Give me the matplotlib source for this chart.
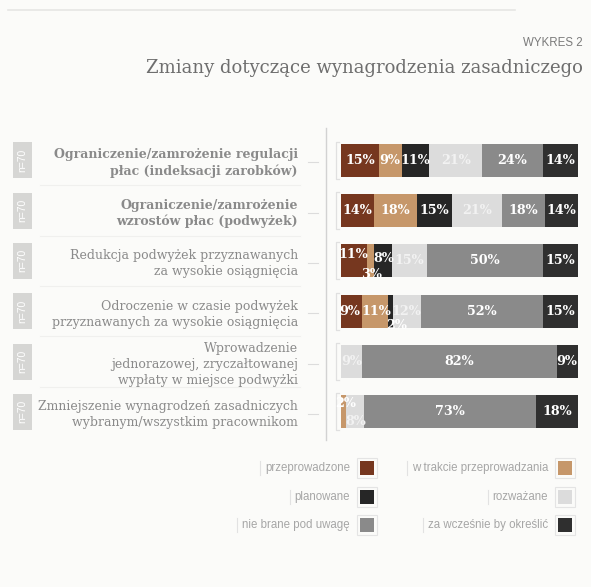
import matplotlib
matplotlib.use("Agg")
import matplotlib.pyplot as plt
from matplotlib.patches import Rectangle
from matplotlib.lines import Line2D
import numpy as np

# ---- data ----
categories = [
    "Ograniczenie/zamrożenie regulacji\npłac (indeksacji zarobków)",
    "Ograniczenie/zamrożenie\nwzrostów płac (podwyżek)",
    "Redukcja podwyżek przyznawanych\nza wysokie osiągnięcia",
    "Odroczenie w czasie podwyżek\nprzyznawanych za wysokie osiągnięcia",
    "Wprowadzenie\njednorazowej, zryczałtowanej\nwypłaty w miejsce podwyżki",
    "Zmniejszenie wynagrodzeń zasadniczych\nwybranym/wszystkim pracownikom",
]
sample_sizes = ["n=70"] * 6
series_names = ["przeprowadzone", "w trakcie przeprowadzania", "planowane",
                "rozważane", "nie brane pod uwagę", "za wcześnie by określić"]
przeprowadzone = [15, 14, 11, 9, 0, 0]
w_trakcie = [9, 18, 3, 11, 0, 2]
planowane = [11, 15, 8, 2, 0, 0]
rozwazane = [21, 21, 15, 12, 9, 8]
nie_brane = [24, 18, 50, 52, 82, 73]
za_wczesnie = [14, 14, 15, 15, 9, 18]

title_tag = "WYKRES 2"
title = "Zmiany dotyczące wynagrodzenia zasadniczego"

# ---- style ----
colors = ["#76371f", "#c6976a", "#262626", "#dcdcdc", "#8a8a8a", "#2f2f2f"]
label_colors = ["white", "white", "white", "#f2f2f2", "white", "white"]
bg = "#fbfbf9"
serif = ["DejaVu Serif"]
narrow = ["Liberation Sans Narrow", "Liberation Sans", "DejaVu Sans"]

W, H = 591, 587
fig = plt.figure(figsize=(W / 100, H / 100), dpi=100, facecolor=bg)

# overlay axes in pixel coordinates for decorations
ov = fig.add_axes([0, 0, 1, 1], zorder=0)
ov.set_xlim(0, W)
ov.set_ylim(H, 0)
ov.axis("off")
ov.set_facecolor("none")


def px_axes(x0, y0, x1, y1):
    return [x0 / W, 1 - y1 / H, (x1 - x0) / W, (y1 - y0) / H]


# top rule
ov.add_line(Line2D([8, 515], [10, 10], color="#e6e6e4", lw=1.2))

# titles
ov.text(583, 43, title_tag, ha="right", va="center", fontsize=8.3,
        family=narrow, color="#7a7a7a")
ov.text(583, 68, title, ha="right", va="center", fontsize=13.0,
        family=serif, color="#6e6e6e")

# bar axes
bx0, bx1 = 341, 578
by0, by1 = 135, 437
ax = fig.add_axes(px_axes(bx0, by0, bx1, by1), zorder=2)
ax.set_facecolor("none")

series = [przeprowadzone, w_trakcie, planowane, rozwazane, nie_brane, za_wczesnie]
data = np.array(series, dtype=float)
totals = data.sum(axis=0)
shares = data / totals * 100.0
n = len(categories)
ypos = np.arange(n)

# label nudges for narrow segments: (row, series) -> (dx in data units, dy in rows)
nudges = {
    (2, 0): (0, -0.12), (2, 1): (0.6, 0.28), (2, 2): (0.4, -0.05),
    (3, 0): (-0.9, 0), (3, 1): (0.6, 0),
    (3, 2): (2.6, 0.28), (5, 1): (1.0, -0.16), (5, 3): (0.2, 0.2),
    (4, 5): (-0.2, 0),
}

left = np.zeros(n)
for s, vals in enumerate(series):
    ax.barh(ypos, shares[s], left=left, height=0.65, color=colors[s],
            edgecolor="none")
    for r in range(n):
        v = vals[r]
        if v <= 0:
            continue
        cx = left[r] + shares[s][r] / 2
        dx, dy = nudges.get((r, s), (0, 0))
        ax.text(cx + dx, r + dy, f"{v}%", ha="center", va="center",
                fontsize=9.2, fontweight="bold", family=serif,
                color=label_colors[s])
    left += shares[s]

ax.set_xlim(0, 100)
ax.set_ylim(n - 0.5, -0.5)
ax.set_yticks(ypos)
ax.set_yticklabels(categories, family=serif, fontsize=9.0, color="#8a8a8a",
                   ha="right", multialignment="right", linespacing=1.3)
ax.tick_params(axis="y", length=0, pad=31)
ax.set_xticks([])
for sp in ax.spines.values():
    sp.set_visible(False)
for i, lbl in enumerate(ax.get_yticklabels()):
    if i < 2:
        lbl.set_fontweight("bold")

# row geometry in pixels
row_h = (by1 - by0) / n
centers = [by0 + row_h * (i + 0.5) for i in range(n)]
half = 0.65 * row_h / 2

# left grey n= boxes and tick marks
for i, c in enumerate(centers):
    ov.add_patch(Rectangle((13, c - 18), 19, 36, color="#d6d6d4", lw=0))
    ov.text(22.5, c, sample_sizes[i], rotation=90, ha="center", va="center",
            fontsize=7.5, family=narrow, color="white")
    ov.add_line(Line2D([308, 318], [c + 2, c + 2], color="#dcdcdc", lw=0.8))
    # bracket at bar start
    ov.add_line(Line2D([339, 336, 336, 339],
                       [c - half - 2, c - half - 2, c + half + 2, c + half + 2],
                       color="#e0e0e0", lw=0.9))
    if 0 < i:
        ov.add_line(Line2D([40, 300], [c - row_h / 2, c - row_h / 2],
                           color="#f0f0ee", lw=0.8))

# vertical divider
ov.add_line(Line2D([326, 326], [128, 440], color="#d2d2d2", lw=1.0))

# legend
leg_rows = [468, 497, 525]
leg_cols = [(350, 359), (548, 557)]
renderer = fig.canvas.get_renderer()
k = 0
for r, y in enumerate(leg_rows):
    for cidx, (tx, sx) in enumerate(leg_cols):
        t = ov.text(tx, y, series_names[k], ha="right", va="center",
                    fontsize=8.3, family=narrow, color="#a6a6a6")
        ov.add_patch(Rectangle((sx + 1, y - 7), 14, 14, color=colors[k], lw=0))
        ov.add_patch(Rectangle((sx - 2, y - 10), 20, 20, fill=False,
                               edgecolor="#e4e4e4", lw=0.8))
        ext = t.get_window_extent(renderer=renderer)
        bx = ext.x0 - 5
        ov.add_line(Line2D([bx, bx], [y - 7, y + 7], color="#e2e2e2", lw=0.8))
        k += 1

fig.savefig("out.png", dpi=100, facecolor=bg)
